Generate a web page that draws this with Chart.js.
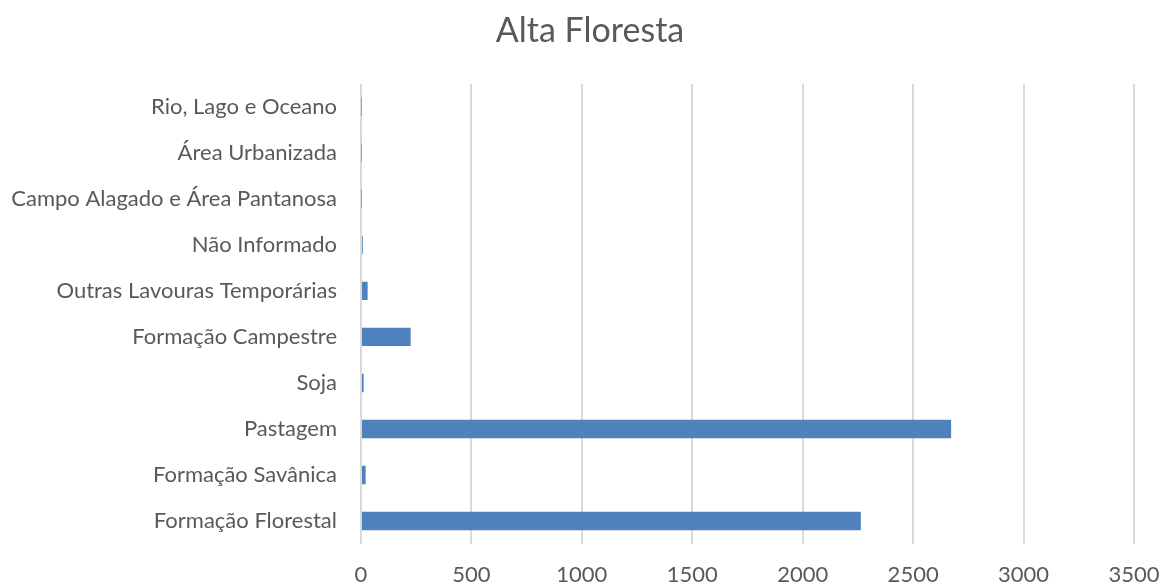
<!DOCTYPE html>
<html>
<head>
<meta charset="utf-8">
<script src="https://cdn.jsdelivr.net/npm/chart.js@4"></script>
<style>
html,body{margin:0;padding:0;background:#fff;}
#wrap{width:1161px;height:586px;position:relative;}
</style>
</head>
<body>
<div id="wrap"><canvas id="c" width="1161" height="586"></canvas></div>
<script>
const categories = ["Rio, Lago e Oceano","Área Urbanizada","Campo Alagado e Área Pantanosa","Não Informado","Outras Lavouras Temporárias","Formação Campestre","Soja","Pastagem","Formação Savânica","Formação Florestal"];
const values = [2,2,2,8,30,225,12,2672,21,2263];
const xTicks = [0,500,1000,1500,2000,2500,3000,3500];
const titleText = "Alta Floresta";

const FONT = "Lato, 'Open Sans', sans-serif";
const widenLabelArea = {
  id: 'widenLabelArea',
  afterLayout(chart) { chart.scales.y.left = 0; }
};
new Chart(document.getElementById('c'), {
  type: 'bar',
  data: {
    labels: categories,
    datasets: [{
      data: values,
      backgroundColor: '#4f81bd',
      borderWidth: 0,
      categoryPercentage: 0.8,
      barPercentage: 0.5
    }]
  },
  plugins: [widenLabelArea],
  options: {
    indexAxis: 'y',
    responsive: false,
    animation: false,
    layout: {padding: {left: 46, right: 27, top: 0, bottom: 0}},
    plugins: {
      legend: {display: false},
      tooltip: {enabled: false},
      title: {
        display: true, text: titleText, color: '#595959',
        font: {family: FONT, size: 34, weight: 'normal'},
        padding: {top: 11, bottom: 32}
      }
    },
    scales: {
      x: {
        min: 0, max: 3500,
        afterBuildTicks: (ax) => { ax.ticks = xTicks.map(v => ({value: v})); },
        afterFit: (ax) => { ax.height = 42; ax.paddingRight = 0; ax.paddingLeft = 0; },
        grid: {color: '#d9d9d9', lineWidth: 2, drawTicks: false},
        border: {display: false},
        ticks: {color: '#595959', font: {family: FONT, size: 22}, padding: 18,
          callback: (v) => String(v)}
      },
      y: {
        grid: {display: false},
        border: {display: false},
        afterFit: (ax) => { ax.width = 315; },
        ticks: {color: '#595959', font: {family: FONT, size: 22}, padding: 16}
      }
    }
  }
});
</script>
</body>
</html>
